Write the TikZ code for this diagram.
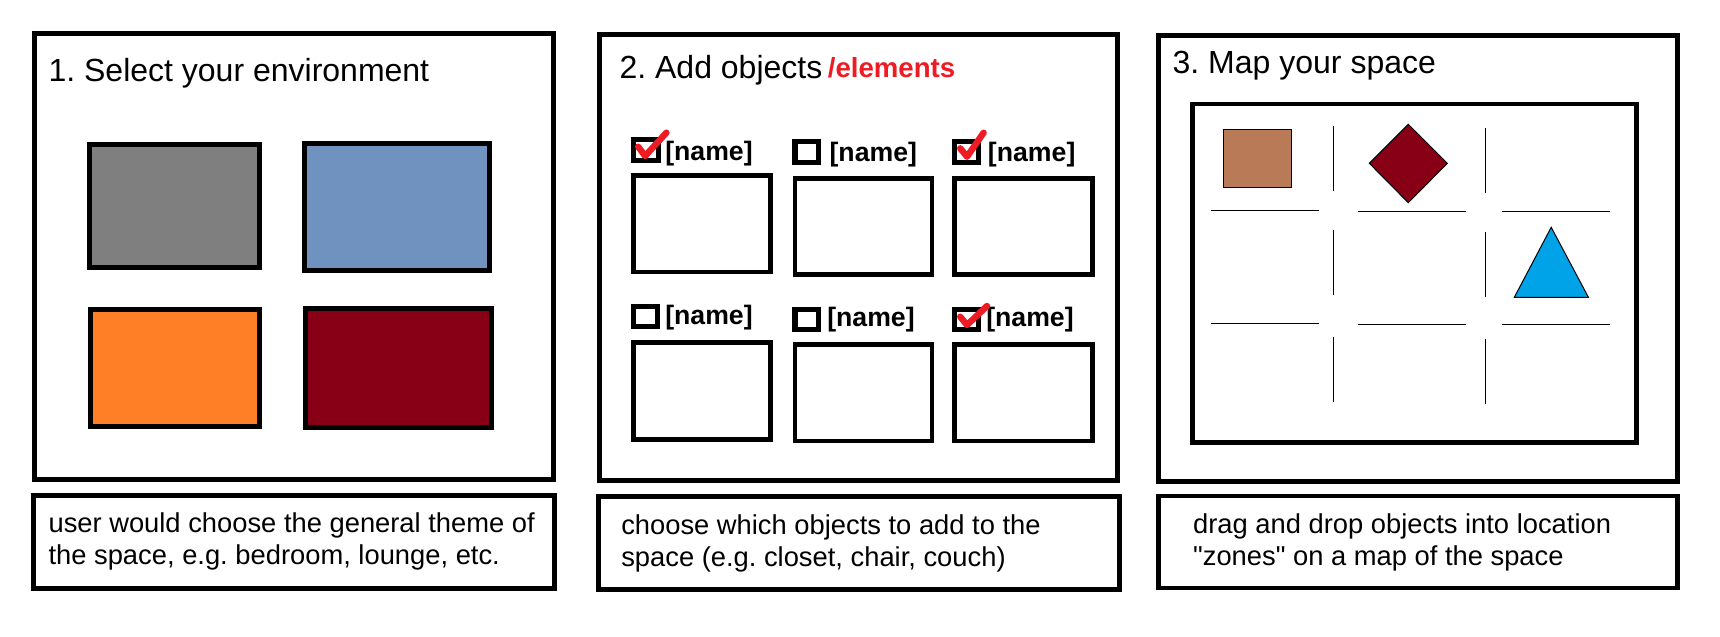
\documentclass[tikz,border=0pt]{standalone}
\usepackage{fontspec}
\setmainfont{Liberation Sans}
\font\straightq="Liberation Sans" at 20.5pt
\newcommand{\sq}{{\straightq\char34}}
\frenchspacing
\definecolor{envgray}{HTML}{7F7F7F}
\definecolor{envblue}{HTML}{7092BE}
\definecolor{envorange}{HTML}{FF7F27}
\definecolor{envred}{HTML}{880015}
\definecolor{brownobj}{HTML}{B97A57}
\definecolor{skyobj}{HTML}{00A2E8}
\definecolor{checkred}{HTML}{ED1C24}
\begin{document}
\begin{tikzpicture}[x=0.75pt,y=-0.75pt,
  panel/.style={draw=black,line width=3.6pt,fill=white},
  thickbox/.style={draw=black,line width=3.6pt},
  cbox/.style={draw=black,line width=3.9pt},
  thinline/.style={draw=black,line width=0.75pt},
  tick/.style={draw=checkred,line width=4.8pt,line cap=round,line join=round},
  titletext/.style={anchor=base west,inner sep=0pt,font=\fontsize{24}{28}\selectfont},
  captext/.style={anchor=base west,inner sep=0pt,align=left,font=\fontsize{20.5}{23.8}\selectfont},
  namelbl/.style={anchor=base west,inner sep=0pt,font=\bfseries\fontsize{20}{24}\selectfont},
]
\useasboundingbox[fill=white] (0,0) rectangle (1720,636);

% ---------- panels ----------
\draw[panel] (34.3,33.3) rectangle (553.4,479.3);
\draw[panel] (599.5,34.2) rectangle (1117.5,480.3);
\draw[panel] (1158.6,35.8) rectangle (1677.3,481.3);
\draw[panel] (33.5,495.2) rectangle (554.5,588.2);
\draw[panel] (598.5,496.7) rectangle (1119.5,589.3);
\draw[panel] (1158.7,496) rectangle (1677.5,588);

% ---------- panel 1 ----------
\node[titletext] (t1) at (48.3,81.7) {1. Select your environment};
\draw[thickbox,fill=envgray] (89.5,144.5) rectangle (259.5,267.5);
\draw[thickbox,fill=envblue] (304.5,143.5) rectangle (489.5,270.2);
\draw[thickbox,fill=envorange] (90.5,309.2) rectangle (259.5,426.2);
\draw[thickbox,fill=envred] (305.5,308.2) rectangle (491.5,427.5);
\node[captext] (c1) at (48.3,564.3) {user would choose the general theme of\\the space, e.g. bedroom, lounge, etc.};

% ---------- panel 2 ----------
\node[titletext] (t2) at (619.3,78.3) {2. Add objects};
\node[anchor=base west,inner sep=0pt,text=checkred,font=\bfseries\fontsize{20.7}{24}\selectfont] (t2b) at (827.6,77) {/elements};

\draw[cbox] (633.8,139.2) rectangle (658.1,160.2);
\draw[cbox] (795,141.8) rectangle (818.2,162.5);
\draw[cbox] (954.8,141.8) rectangle (978.3,162.5);
\draw[cbox] (633.8,306.8) rectangle (657.1,326.8);
\draw[cbox] (795,309.2) rectangle (818.2,329.2);
\draw[cbox] (954.8,309.2) rectangle (978.3,329.2);

\node[namelbl] (n1) at (665,160) {[name]};
\node[namelbl] (n2) at (829.3,161.7) {[name]};
\node[namelbl] (n3) at (987.7,161.7) {[name]};
\node[namelbl] (n4) at (665,324) {[name]};
\node[namelbl] (n5) at (827,326.7) {[name]};
\node[namelbl] (n6) at (986,326.7) {[name]};

\draw[tick] (638.2,146.7) -- (645.1,156) -- (666.4,132.7);
\draw[tick] (960.2,148.3) -- (967,156.7) -- (983.6,132.7);
\draw[tick] (960.2,316.7) -- (967,325) -- (987,306);

\draw[thickbox] (633.7,175.7) rectangle (770.8,271.9);
\draw[thickbox] (794.9,178.1) rectangle (932,274.3);
\draw[thickbox] (954.7,178.1) rectangle (1092.1,274.3);
\draw[thickbox] (633.7,342.4) rectangle (770.8,439.3);
\draw[thickbox] (794.9,344.7) rectangle (932,440.9);
\draw[thickbox] (954.7,344.7) rectangle (1092.1,440.9);

\node[captext] (c2) at (621,566.7) {choose which objects to add to the\\space (e.g. closet, chair, couch)};

% ---------- panel 3 ----------
\node[titletext] (t3) at (1172.4,73.3) {3. Map your space};
\draw[thickbox] (1192.7,104) rectangle (1636.6,442.6);

\draw[thinline,fill=brownobj] (1223,129) rectangle (1291.5,187.7);
\draw[thinline,fill=envred] (1408.3,124.3) -- (1447.3,163.3) -- (1408.3,202.7) -- (1369.3,163.3) -- cycle;
\draw[thinline,fill=skyobj] (1551.2,227.3) -- (1588.4,297.3) -- (1514.3,297.3) -- cycle;

\draw[thinline] (1333.2,126) -- (1333.2,190.7);
\draw[thinline] (1333.2,230) -- (1333.2,295);
\draw[thinline] (1333.2,336.7) -- (1333.2,401.7);
\draw[thinline] (1485.4,128) -- (1485.4,192.7);
\draw[thinline] (1485.4,232) -- (1485.4,296.7);
\draw[thinline] (1485.4,339) -- (1485.4,403.7);
\draw[thinline] (1211,210.3) -- (1318.7,210.3);
\draw[thinline] (1358,211.3) -- (1465.8,211.3);
\draw[thinline] (1502,211.3) -- (1610,211.3);
\draw[thinline] (1211,323.3) -- (1318.7,323.3);
\draw[thinline] (1358,324.3) -- (1465.8,324.3);
\draw[thinline] (1502,324.3) -- (1610,324.3);

\node[captext] (c3) at (1192.9,565.7) {drag and drop objects into location\\\sq zones\sq{} on a map of the space};
\end{tikzpicture}
\end{document}
